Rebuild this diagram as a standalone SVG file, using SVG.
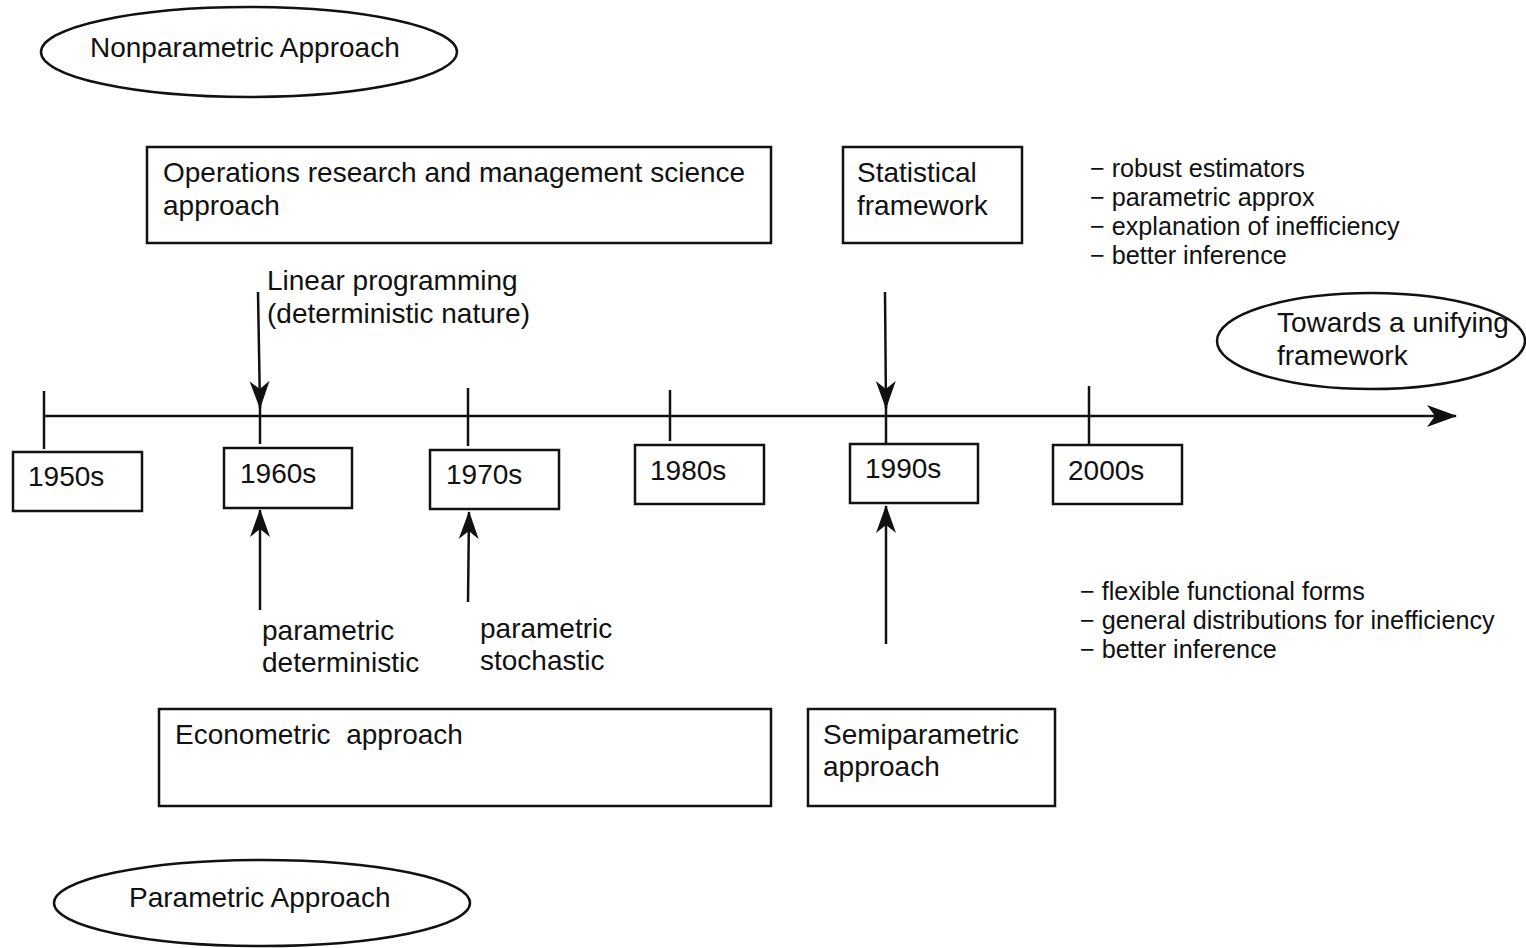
<svg xmlns="http://www.w3.org/2000/svg" width="1526" height="948" viewBox="0 0 1526 948">
<defs>
<marker id="ah" viewBox="0 0 28 22" refX="27" refY="11" markerWidth="28" markerHeight="22" markerUnits="userSpaceOnUse" orient="auto">
<path d="M0,1 L28,11 L0,21 L8,11 Z" fill="#111"/>
</marker>
<marker id="ax" viewBox="0 0 30 24" refX="29" refY="12" markerWidth="30" markerHeight="24" markerUnits="userSpaceOnUse" orient="auto">
<path d="M0,1 L30,12 L0,23 L8,12 Z" fill="#111"/>
</marker>
<style>
text{font-family:"Liberation Sans",Arial,sans-serif;font-size:28px;fill:#111}
.b{font-size:25.2px}
.box{fill:none;stroke:#111;stroke-width:2.5}
.ln{fill:none;stroke:#111;stroke-width:2.5}
.ar{fill:none;stroke:#111;stroke-width:2.5;marker-end:url(#ah)}
</style>
</defs>
<rect width="1526" height="948" fill="#fff"/>
<g id="nonparam"><ellipse cx="249" cy="52" rx="208" ry="45" class="box" stroke-width="2"/><text x="90" y="57">Nonparametric Approach</text></g>
<g id="param"><ellipse cx="262" cy="903" rx="208" ry="43" class="box" stroke-width="2"/><text x="129" y="907">Parametric Approach</text></g>
<g id="unify"><ellipse cx="1371" cy="341" rx="154" ry="48" class="box" stroke-width="2"/><text x="1277" y="332">Towards a unifying</text><text x="1277" y="365">framework</text></g>
<g id="orms"><rect x="147" y="147" width="624" height="96" class="box"/><text x="163" y="182">Operations research and management science</text><text x="163" y="215">approach</text></g>
<g id="stat"><rect x="843" y="147" width="179" height="96" class="box"/><text x="857" y="182">Statistical</text><text x="857" y="215">framework</text></g>
<g id="bul1"><text class="b" x="1090" y="177">− robust estimators</text><text class="b" x="1090" y="206">− parametric approx</text><text class="b" x="1090" y="235">− explanation of inefficiency</text><text class="b" x="1090" y="264">− better inference</text></g>
<g id="lp"><text x="267" y="290">Linear programming</text><text x="267" y="323">(deterministic nature)</text></g>
<g id="y1950"><rect x="13" y="452" width="129" height="59" class="box"/><text x="28" y="486">1950s</text></g>
<g id="y1960"><rect x="224" y="448" width="128" height="60" class="box"/><text x="240" y="483">1960s</text></g>
<g id="y1970"><rect x="430" y="450" width="129" height="59" class="box"/><text x="446" y="484">1970s</text></g>
<g id="y1980"><rect x="635" y="445" width="129" height="59" class="box"/><text x="650" y="480">1980s</text></g>
<g id="y1990"><rect x="850" y="444" width="128" height="59" class="box"/><text x="865" y="478">1990s</text></g>
<g id="y2000"><rect x="1053" y="445" width="129" height="59" class="box"/><text x="1068" y="480">2000s</text></g>
<g id="pdet"><text x="262" y="640">parametric</text><text x="262" y="672">deterministic</text></g>
<g id="psto"><text x="480" y="638">parametric</text><text x="480" y="670">stochastic</text></g>
<g id="bul2"><text class="b" x="1080" y="600">− flexible functional forms</text><text class="b" x="1080" y="629">− general distributions for inefficiency</text><text class="b" x="1080" y="658">− better inference</text></g>
<g id="econ"><rect x="159" y="709" width="612" height="97" class="box"/><text x="175" y="744" xml:space="preserve">Econometric  approach</text></g>
<g id="semi"><rect x="808" y="709" width="247" height="97" class="box"/><text x="823" y="744">Semiparametric</text><text x="823" y="776">approach</text></g>
<g id="connectors">
<line x1="44" y1="416" x2="1456" y2="416" class="ln" style="marker-end:url(#ax)"/>
<line x1="44" y1="391" x2="44" y2="449" class="ln"/>
<line x1="260" y1="400" x2="260" y2="444" class="ln"/>
<line x1="468" y1="388" x2="468" y2="446" class="ln"/>
<line x1="670" y1="390" x2="670" y2="441" class="ln"/>
<line x1="886" y1="400" x2="886" y2="443" class="ln"/>
<line x1="1089" y1="386" x2="1089" y2="445" class="ln"/>
<line x1="258" y1="292" x2="260" y2="408" class="ar"/>
<line x1="885" y1="292" x2="886" y2="408" class="ar"/>
<line x1="260" y1="610" x2="260" y2="510" class="ar"/>
<line x1="468" y1="602" x2="469" y2="512" class="ar"/>
<line x1="886" y1="644" x2="886" y2="506" class="ar"/>
</g>
</svg>
